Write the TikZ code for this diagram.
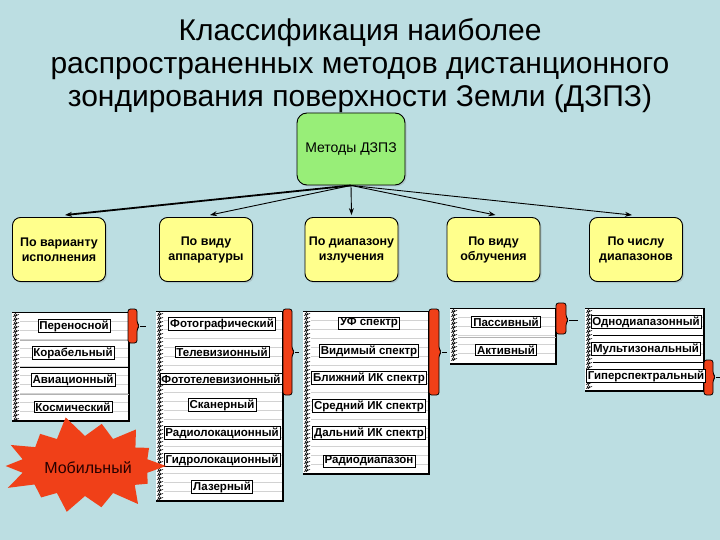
\documentclass[tikz,border=0pt]{standalone}
\usepackage{fontspec}
\setmainfont{Liberation Sans}
\usetikzlibrary{arrows.meta,shadows,calc}
\definecolor{bgc}{RGB}{188,222,226}
\definecolor{gbox}{RGB}{152,238,120}
\definecolor{ybox}{RGB}{255,255,140}
\definecolor{bred}{RGB}{240,64,24}
\tikzset{
  catbox/.style={draw=black, line width=0.9pt, fill=ybox, rounded corners=8pt,
    minimum width=93pt, minimum height=64pt, align=center, inner sep=1pt,
    font=\fontsize{12.5}{15}\selectfont\bfseries,
    drop shadow={opacity=0.25, shadow xshift=1.5pt, shadow yshift=-1.5pt}},
  rootbox/.style={draw=black, line width=0.9pt, fill=gbox, rounded corners=10pt,
    minimum width=108pt, minimum height=72pt, align=center,
    font=\fontsize{14}{16}\selectfont,
    drop shadow={opacity=0.25, shadow xshift=1.5pt, shadow yshift=-1.5pt}},
  item/.style={draw=black, line width=0.6pt, fill=white, inner xsep=1.5pt, inner ysep=1pt,
    font=\fontsize{11.5}{13}\selectfont\bfseries},
  arr/.style={-{Stealth[length=7pt,width=5pt]}, line width=0.9pt},
  rule/.style={gray!35, line width=0.4pt},
  spiral/.style={black, line width=0.55pt},
}
\newcommand\nbpaper[4]{%
  \fill[white] (#1,#2) rectangle (#3,#4);
  \pgfmathsetmacro\nbA{#2+9}\pgfmathsetmacro\nbB{#2+18}\pgfmathsetmacro\nbE{#4-3}
  \foreach \yy in {\nbA,\nbB,...,\nbE} \draw[rule] (#1+8,\yy) -- (#3,\yy);
  \pgfmathsetmacro\spA{#2+3}\pgfmathsetmacro\spB{#2+7}\pgfmathsetmacro\spE{#4-2}
  \foreach \yy in {\spA,\spB,...,\spE} {%
    \draw[spiral] (#1+3.5,\yy) circle[radius=1.6pt];
    \draw[spiral] (#1+1,\yy+1.5) -- (#1+7,\yy-0.5);}
  \draw[black, line width=0.5pt] (#1,#2) -- (#3,#2);
  \draw[black, line width=1.6pt] (#3,#2) -- (#3,#4) -- (#1,#4);
}
\newcommand\redbrace[6]{%
  \filldraw[fill=bred, draw=black, line width=0.8pt, rounded corners=2.5pt]
    (#1,#3) -- (#2,#3) -- (#2,#4-3) -- (#2+2.5,#4) -- (#2,#4+3) -- (#2,#5) -- (#1,#5) -- cycle;
  \draw[black, line width=1pt] (#2+2.5,#4) -- (#6,#4);
}
\begin{document}
\begin{tikzpicture}[x=1pt,y=-1pt]
\fill[bgc] (0,0) rectangle (720,540);
\useasboundingbox (0,0) rectangle (720,540);

% title
\node[align=center, font=\fontsize{30}{33}\selectfont] (title) at (360,66)
  {Классификация наиболее\\распространенных методов дистанционного\\зондирования поверхности Земли (ДЗПЗ)};

% root and categories
\node[rootbox] (root) at (351,149) {Методы ДЗПЗ};
\node[catbox] (c1) at (59,249.5) {По варианту\\исполнения};
\node[catbox] (c2) at (206,249.5) {По виду\\аппаратуры};
\node[catbox] (c3) at (351.5,249.5) {По диапазону\\излучения};
\node[catbox] (c4) at (493.5,249.5) {По виду\\облучения};
\node[catbox] (c5) at (636,249.5) {По числу\\диапазонов};

\draw[arr, line width=1.8pt] (root.south) -- ([xshift=6pt,yshift=2pt]c1.north);
\draw[arr] (root.south) -- ([xshift=4pt,yshift=2pt]c2.north);
\draw[arr] (root.south) -- ([yshift=2pt]c3.north);
\draw[arr] (root.south) -- ([xshift=2pt,yshift=2pt]c4.north);
\draw[arr] (root.south) -- ([xshift=-4pt,yshift=2pt]c5.north);

% notebooks
\nbpaper{12}{312}{129}{421}
\nbpaper{156}{311}{283}{501}
\nbpaper{303}{311}{429}{474}
\nbpaper{450}{308}{556}{364}
\nbpaper{585}{308}{704}{391}

\draw[gray!60, line width=0.6pt] (20,340) -- (129,340);
\draw[black, line width=0.6pt] (20,367) -- (129,367);
\draw[gray!60, line width=0.6pt] (20,394) -- (129,394);
\draw[gray!60, line width=0.6pt] (458,337) -- (556,337);
\draw[black, line width=0.6pt] (593,335) -- (704,335);
\draw[black, line width=0.6pt] (593,362) -- (704,362);

% brackets
\redbrace{128}{137}{309}{326}{343}{146}
\redbrace{283}{292}{309}{352}{395}{299}
\redbrace{429}{439}{309}{352}{395}{447}
\redbrace{556}{566}{303}{320}{334}{578}
\redbrace{704}{713}{360}{377}{395}{720}

% items list 1
\node[item] (a1) at (74,326) {Переносной};
\node[item] (a2) at (73,353) {Корабельный};
\node[item] (a3) at (73,380) {Авиационный};
\node[item] (a4) at (73,407) {Космический};
% list 2
\node[item] (b1) at (222,324) {Фотографический};
\node[item] (b2) at (222,352) {Телевизионный};
\node[item] (b3) at (221,379) {Фототелевизионный};
\node[item] (b4) at (222,405) {Сканерный};
\node[item] (b5) at (222,433) {Радиолокационный};
\node[item] (b6) at (222,460) {Гидролокационный};
\node[item] (b7) at (222,487) {Лазерный};
% list 3
\node[item] (d1) at (369,323) {УФ спектр};
\node[item] (d2) at (369,351) {Видимый спектр};
\node[item] (d3) at (369,378) {Ближний ИК спектр};
\node[item] (d4) at (369,406) {Средний ИК спектр};
\node[item] (d5) at (369,433) {Дальний ИК спектр};
\node[item] (d6) at (369,461) {Радиодиапазон};
% list 4
\node[item] (e1) at (506,322) {Пассивный};
\node[item] (e2) at (506,350) {Активный};
% list 5
\node[item] (f1) at (646,322) {Однодиапазонный};
\node[item] (f2) at (646,349) {Мультизональный};
\node[item] (f3) at (646,376) {Гиперспектральный};

% starburst
\coordinate (sc) at (85,466);
\fill[bred] ($(sc)+(-13:64 and 30)$)
  \foreach \a/\f in {0/1.0, 26/0.86, 51/1.04, 77/0.9, 103/1.0, 129/0.86, 154/1.06,
                     180/0.98, 206/1.02, 231/0.88, 257/1.06, 283/0.92, 309/1.0, 334/0.88}
  { -- ($(sc)+(\a:{81*\f} and {47*\f})$) -- ($(sc)+(\a+13:64 and 30)$) } -- cycle;
\node[font=\fontsize{16}{19}\selectfont, text=black!85!red] (mob) at (88,468) {Мобильный};
\end{tikzpicture}
\end{document}
